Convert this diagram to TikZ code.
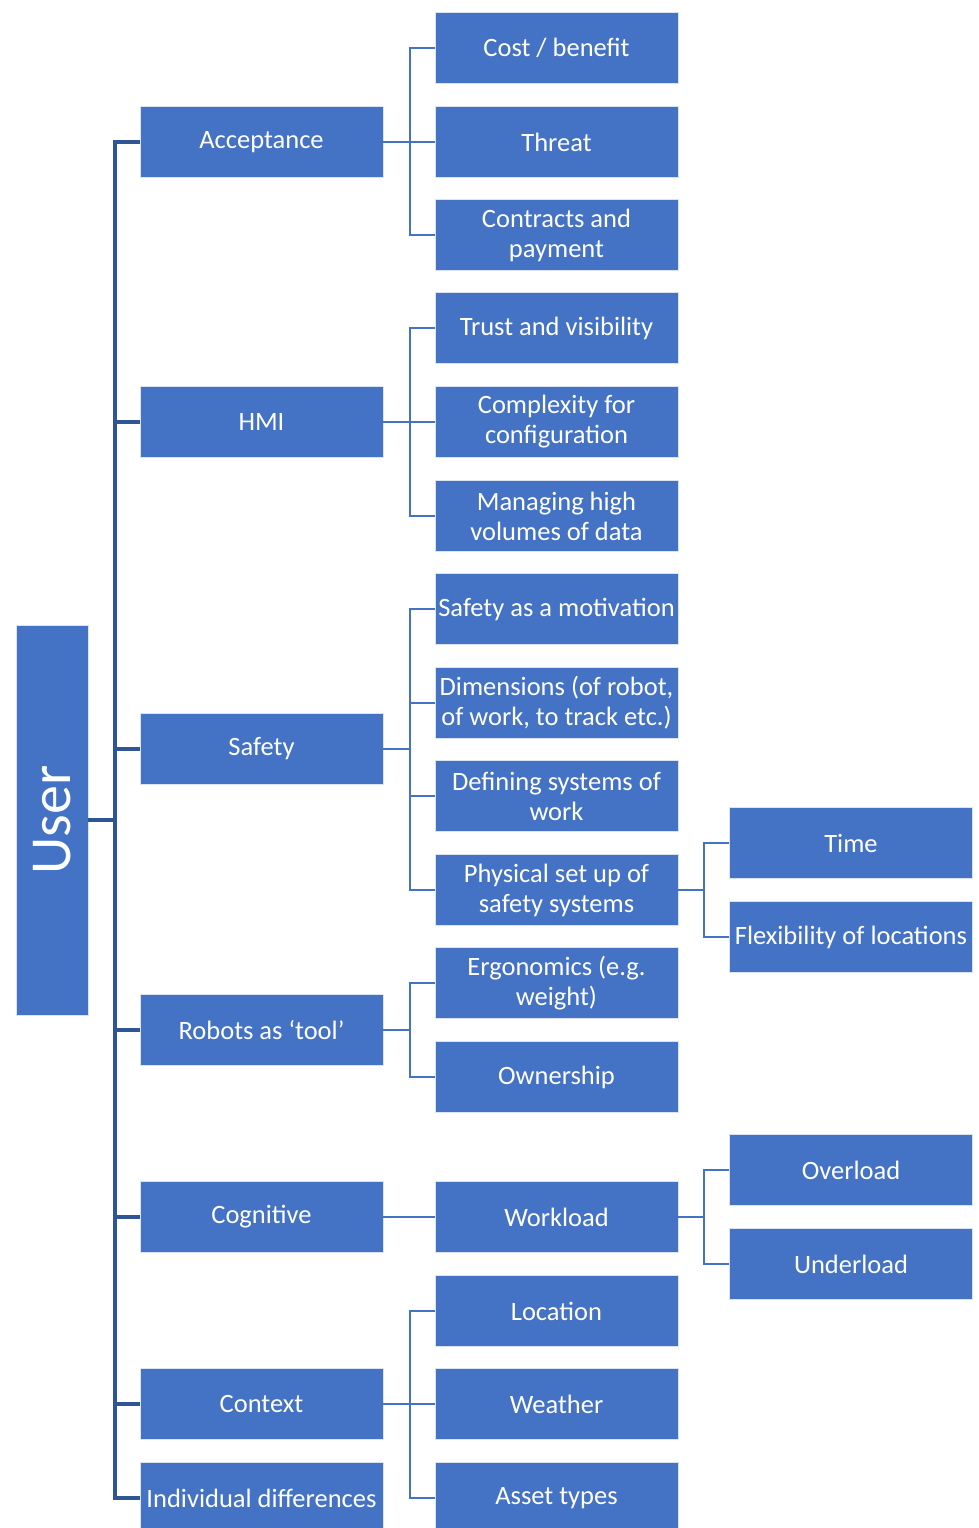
\documentclass[tikz,border=0pt]{standalone}
\usepackage{fontspec}
\setmainfont{Carlito}
\usetikzlibrary{calc}
\definecolor{boxblue}{HTML}{4472C4}
\definecolor{trunkblue}{HTML}{2F5597}
\begin{document}
\begin{tikzpicture}[x = 1pt, y = -1pt,
	box/.style = {draw = white!80!boxblue, line width = .6pt, fill = boxblue, text = white, align = center,
		minimum width = 243pt, minimum height = 71pt, inner sep = 0pt, font = \fontsize{26.5}{30}\selectfont},
	link/.style = {draw = boxblue, line width = 2.6pt},
	trunk/.style = {draw = trunkblue, line width = 3.2pt}]
	\useasboundingbox (0,0) rectangle (978,1528);
	% root
	\node[box, minimum width = 72pt, minimum height = 390pt] (user) at (52,820) {\rotatebox{90}{\fontsize{58}{60}\selectfont User}};
	% first level
	\node[box] (acc) at (261.5,142) {Acceptance};
	\node[box] (hmi) at (261.5,422) {HMI};
	\node[box] (saf) at (261.5,749) {Safety};
	\node[box] (rob) at (261.5,1030) {Robots as ‘tool’};
	\node[box] (cog) at (261.5,1217) {Cognitive};
	\node[box] (con) at (261.5,1404) {Context};
	\node[box] (ind) at (261.5,1498) {Individual differences};
	% second level
	\node[box] (cost) at (556.5,48) {Cost / benefit};
	\node[box] (thr) at (556.5,142) {Threat};
	\node[box] (pay) at (556.5,235) {Contracts and\\payment};
	\node[box] (trust) at (556.5,328) {Trust and visibility};
	\node[box] (cplx) at (556.5,422) {Complexity for\\configuration};
	\node[box] (data) at (556.5,516) {Managing high\\volumes of data};
	\node[box] (motiv) at (556.5,609) {Safety as a motivation};
	\node[box] (dim) at (556.5,703) {Dimensions (of robot,\\of work, to track etc.)};
	\node[box] (sysw) at (556.5,796) {Defining systems of\\work};
	\node[box] (phys) at (556.5,890) {Physical set up of\\safety systems};
	\node[box] (ergo) at (556.5,983) {Ergonomics (e.g.\\weight)};
	\node[box] (own) at (556.5,1077) {Ownership};
	\node[box] (work) at (556.5,1217) {Workload};
	\node[box] (loc) at (556.5,1311) {Location};
	\node[box] (wea) at (556.5,1404) {Weather};
	\node[box] (asset) at (556.5,1498) {Asset types};
	% third level
	\node[box] (time) at (851,843) {Time};
	\node[box] (flex) at (851,937) {Flexibility of locations};
	\node[box] (over) at (851,1170) {Overload};
	\node[box] (under) at (851,1264) {Underload};
	% trunk
	\coordinate (tr) at (115,820);
	\draw[trunk] (user.east) -- (tr);
	\draw[trunk] (acc.west) -| (tr) |- (ind.west);
	\foreach \n in {hmi, saf, rob, cog, con}
		\draw[trunk] (\n.west) -- (\n.west -| tr);
	% branches
	\coordinate (accbus) at (410,142);
	\draw[link] (acc.east) -- (thr.west);
	\draw[link] (cost.west) -| (accbus) |- (pay.west);
	\coordinate (hmibus) at (410,422);
	\draw[link] (hmi.east) -- (cplx.west);
	\draw[link] (trust.west) -| (hmibus) |- (data.west);
	\coordinate (safbus) at (410,749);
	\draw[link] (saf.east) -- (safbus);
	\draw[link] (motiv.west) -| (safbus) |- (phys.west);
	\draw[link] (dim.west) -- (dim.west -| safbus);
	\draw[link] (sysw.west) -- (sysw.west -| safbus);
	\coordinate (robbus) at (410,1030);
	\draw[link] (rob.east) -- (robbus);
	\draw[link] (ergo.west) -| (robbus) |- (own.west);
	\draw[link] (cog.east) -- (work.west);
	\coordinate (conbus) at (410,1404);
	\draw[link] (con.east) -- (wea.west);
	\draw[link] (loc.west) -| (conbus) |- (asset.west);
	\coordinate (physbus) at (704,890);
	\draw[link] (phys.east) -- (physbus);
	\draw[link] (time.west) -| (physbus) |- (flex.west);
	\coordinate (workbus) at (704,1217);
	\draw[link] (work.east) -- (workbus);
	\draw[link] (over.west) -| (workbus) |- (under.west);
\end{tikzpicture}
\end{document}
